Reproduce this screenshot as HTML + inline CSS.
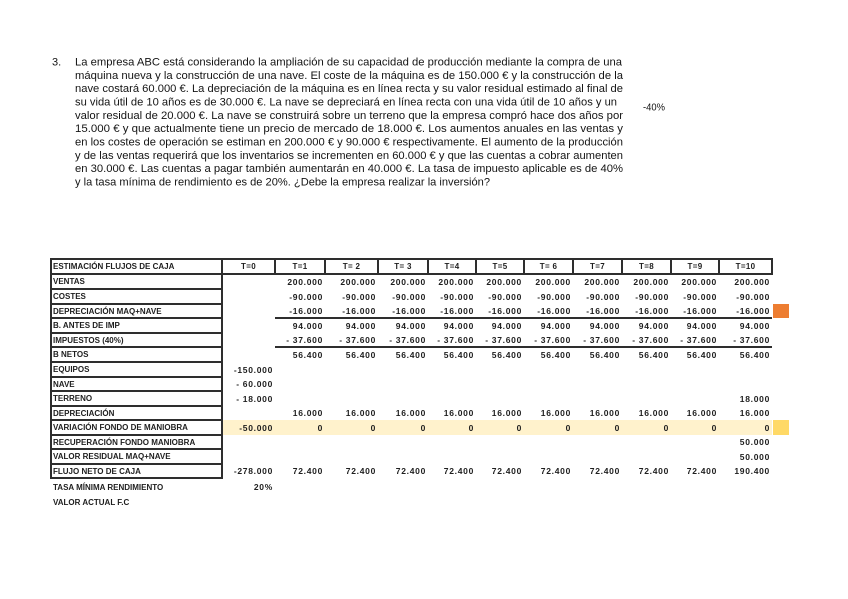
<!DOCTYPE html>
<html>
<head>
<meta charset="utf-8">
<style>
  html,body{margin:0;padding:0;background:#fff;}
  body{width:848px;height:599px;position:relative;overflow:hidden;font-family:"Liberation Sans",sans-serif;color:#1a1a1a;}
  .ln{position:absolute;background:#2e2e2e;}
  .row{position:absolute;left:0;width:848px;}
  .lab{position:absolute;left:53px;top:0;height:100%;display:flex;align-items:center;font-size:8px;font-weight:bold;white-space:nowrap;color:#1e1e1e;}
  .c{position:absolute;top:0;height:100%;display:flex;align-items:center;justify-content:flex-end;padding-right:2px;box-sizing:border-box;font-size:8.5px;font-weight:bold;letter-spacing:0.7px;white-space:nowrap;color:#1e1e1e;}
  .h{justify-content:center;padding-right:0;font-size:8px;letter-spacing:0.3px;}
  .c0{left:222px;width:53px}
  .c1{left:275px;width:50px}
  .c2{left:325px;width:53px}
  .c3{left:378px;width:50px}
  .c4{left:428px;width:48px}
  .c5{left:476px;width:48px}
  .c6{left:524px;width:49px}
  .c7{left:573px;width:49px}
  .c8{left:622px;width:49px}
  .c9{left:671px;width:48px}
  .c10{left:719px;width:53px}
</style>
</head>
<body>

<svg width="848" height="599" style="position:absolute;left:0;top:0" xmlns="http://www.w3.org/2000/svg">
  <g font-family="Liberation Sans, sans-serif" font-size="11" fill="#141414" style="white-space:pre">
    <text x="52" y="65.5">3.</text>
    <text x="75" y="65.5" textLength="547" lengthAdjust="spacingAndGlyphs">La empresa ABC está considerando la ampliación de su capacidad de producción mediante la compra de una</text>
    <text x="75" y="78.8" textLength="548" lengthAdjust="spacingAndGlyphs">máquina nueva y la construcción de una nave.  El coste de la máquina es de 150.000 € y la construcción de la</text>
    <text x="75" y="92.2" textLength="548" lengthAdjust="spacingAndGlyphs">nave costará 60.000 €.  La depreciación de la máquina es en línea recta y su valor residual estimado al final de</text>
    <text x="75" y="105.5" textLength="542" lengthAdjust="spacingAndGlyphs">su vida útil de 10 años es de 30.000 €.  La nave se depreciará en línea recta con una vida útil de 10 años y un</text>
    <text x="75" y="118.8" textLength="548" lengthAdjust="spacingAndGlyphs">valor residual de 20.000 €.   La nave se construirá sobre un terreno que la empresa compró hace dos años por</text>
    <text x="75" y="132.2" textLength="548" lengthAdjust="spacingAndGlyphs">15.000 € y que actualmente tiene un precio de mercado de 18.000 €.  Los aumentos anuales en las ventas y</text>
    <text x="75" y="145.5" textLength="548" lengthAdjust="spacingAndGlyphs">en los costes de operación se estiman en 200.000 € y 90.000 € respectivamente.  El aumento de la producción</text>
    <text x="75" y="158.8" textLength="548" lengthAdjust="spacingAndGlyphs">y de las ventas requerirá que los inventarios se incrementen en 60.000 € y que las cuentas a cobrar aumenten</text>
    <text x="75" y="172.2" textLength="548" lengthAdjust="spacingAndGlyphs">en 30.000 €.  Las cuentas a pagar también aumentarán en 40.000 €.   La tasa de impuesto aplicable es de 40%</text>
    <text x="75" y="185.5" textLength="415" lengthAdjust="spacingAndGlyphs">y la tasa mínima de rendimiento es de 20%. ¿Debe la empresa realizar la inversión?</text>
    <text x="643" y="110.5" font-size="10" textLength="22" lengthAdjust="spacingAndGlyphs">-40%</text>
  </g>
</svg>

<!-- fills -->
<div style="position:absolute;left:223px;top:420px;width:549px;height:15px;background:#FFF2CC"></div>
<div style="position:absolute;left:773px;top:420px;width:16px;height:15px;background:#FFD966"></div>
<div style="position:absolute;left:773px;top:304px;width:16px;height:14px;background:#ED7D31"></div>

<!-- horizontal lines -->
<div class="ln" style="left:51px;top:258px;width:722px;height:2px"></div>
<div class="ln" style="left:51px;top:273px;width:722px;height:2px"></div>
<div class="ln" style="left:51px;top:288px;width:172px;height:2px"></div>
<div class="ln" style="left:51px;top:303px;width:172px;height:2px"></div>
<div class="ln" style="left:51px;top:317px;width:172px;height:2px"></div>
<div class="ln" style="left:51px;top:332px;width:172px;height:2px"></div>
<div class="ln" style="left:51px;top:346px;width:172px;height:2px"></div>
<div class="ln" style="left:51px;top:361px;width:172px;height:2px"></div>
<div class="ln" style="left:51px;top:376px;width:172px;height:2px"></div>
<div class="ln" style="left:51px;top:390px;width:172px;height:2px"></div>
<div class="ln" style="left:51px;top:405px;width:172px;height:2px"></div>
<div class="ln" style="left:51px;top:419px;width:172px;height:2px"></div>
<div class="ln" style="left:51px;top:434px;width:172px;height:2px"></div>
<div class="ln" style="left:51px;top:448px;width:172px;height:2px"></div>
<div class="ln" style="left:51px;top:463px;width:172px;height:2px"></div>
<div class="ln" style="left:51px;top:477px;width:172px;height:2px"></div>
<div class="ln" style="left:275px;top:317px;width:497px;height:1.5px"></div>
<div class="ln" style="left:275px;top:346px;width:497px;height:1.5px"></div>

<!-- vertical lines -->
<div class="ln" style="left:50px;top:258px;width:2px;height:221px"></div>
<div class="ln" style="left:221px;top:258px;width:2px;height:221px"></div>
<div class="ln" style="left:274px;top:258px;width:2px;height:16px"></div>
<div class="ln" style="left:324px;top:258px;width:2px;height:16px"></div>
<div class="ln" style="left:377px;top:258px;width:2px;height:16px"></div>
<div class="ln" style="left:427px;top:258px;width:2px;height:16px"></div>
<div class="ln" style="left:475px;top:258px;width:2px;height:16px"></div>
<div class="ln" style="left:523px;top:258px;width:2px;height:16px"></div>
<div class="ln" style="left:572px;top:258px;width:2px;height:16px"></div>
<div class="ln" style="left:621px;top:258px;width:2px;height:16px"></div>
<div class="ln" style="left:670px;top:258px;width:2px;height:16px"></div>
<div class="ln" style="left:718px;top:258px;width:2px;height:16px"></div>
<div class="ln" style="left:771px;top:258px;width:2px;height:16px"></div>

<!-- header -->
<div class="row" style="top:259px;height:15px">
  <div class="lab">ESTIMACIÓN FLUJOS DE CAJA</div>
  <div class="c h c0">T=0</div><div class="c h c1">T=1</div><div class="c h c2">T= 2</div><div class="c h c3">T= 3</div><div class="c h c4">T=4</div><div class="c h c5">T=5</div><div class="c h c6">T= 6</div><div class="c h c7">T=7</div><div class="c h c8">T=8</div><div class="c h c9">T=9</div><div class="c h c10">T=10</div>
</div>

<div class="row" style="top:274px;height:15px">
  <div class="lab">VENTAS</div>
  <div class="c c1">200.000</div><div class="c c2">200.000</div><div class="c c3">200.000</div><div class="c c4">200.000</div><div class="c c5">200.000</div><div class="c c6">200.000</div><div class="c c7">200.000</div><div class="c c8">200.000</div><div class="c c9">200.000</div><div class="c c10">200.000</div>
</div>

<div class="row" style="top:289px;height:15px">
  <div class="lab">COSTES</div>
  <div class="c c1">-90.000</div><div class="c c2">-90.000</div><div class="c c3">-90.000</div><div class="c c4">-90.000</div><div class="c c5">-90.000</div><div class="c c6">-90.000</div><div class="c c7">-90.000</div><div class="c c8">-90.000</div><div class="c c9">-90.000</div><div class="c c10">-90.000</div>
</div>

<div class="row" style="top:304px;height:14px">
  <div class="lab">DEPRECIACIÓN MAQ+NAVE</div>
  <div class="c c1">-16.000</div><div class="c c2">-16.000</div><div class="c c3">-16.000</div><div class="c c4">-16.000</div><div class="c c5">-16.000</div><div class="c c6">-16.000</div><div class="c c7">-16.000</div><div class="c c8">-16.000</div><div class="c c9">-16.000</div><div class="c c10">-16.000</div>
</div>

<div class="row" style="top:318px;height:15px">
  <div class="lab">B. ANTES DE IMP</div>
  <div class="c c1">94.000</div><div class="c c2">94.000</div><div class="c c3">94.000</div><div class="c c4">94.000</div><div class="c c5">94.000</div><div class="c c6">94.000</div><div class="c c7">94.000</div><div class="c c8">94.000</div><div class="c c9">94.000</div><div class="c c10">94.000</div>
</div>

<div class="row" style="top:333px;height:14px">
  <div class="lab">IMPUESTOS (40%)</div>
  <div class="c c1">- 37.600</div><div class="c c2">- 37.600</div><div class="c c3">- 37.600</div><div class="c c4">- 37.600</div><div class="c c5">- 37.600</div><div class="c c6">- 37.600</div><div class="c c7">- 37.600</div><div class="c c8">- 37.600</div><div class="c c9">- 37.600</div><div class="c c10">- 37.600</div>
</div>

<div class="row" style="top:347px;height:15px">
  <div class="lab">B NETOS</div>
  <div class="c c1">56.400</div><div class="c c2">56.400</div><div class="c c3">56.400</div><div class="c c4">56.400</div><div class="c c5">56.400</div><div class="c c6">56.400</div><div class="c c7">56.400</div><div class="c c8">56.400</div><div class="c c9">56.400</div><div class="c c10">56.400</div>
</div>

<div class="row" style="top:362px;height:15px">
  <div class="lab">EQUIPOS</div>
  <div class="c c0">-150.000</div>
</div>

<div class="row" style="top:377px;height:14px">
  <div class="lab">NAVE</div>
  <div class="c c0">- 60.000</div>
</div>

<div class="row" style="top:391px;height:15px">
  <div class="lab">TERRENO</div>
  <div class="c c0">- 18.000</div><div class="c c10">18.000</div>
</div>

<div class="row" style="top:406px;height:14px">
  <div class="lab">DEPRECIACIÓN</div>
  <div class="c c1">16.000</div><div class="c c2">16.000</div><div class="c c3">16.000</div><div class="c c4">16.000</div><div class="c c5">16.000</div><div class="c c6">16.000</div><div class="c c7">16.000</div><div class="c c8">16.000</div><div class="c c9">16.000</div><div class="c c10">16.000</div>
</div>

<div class="row" style="top:420px;height:15px">
  <div class="lab">VARIACIÓN FONDO DE MANIOBRA</div>
  <div class="c c0">-50.000</div><div class="c c1">0</div><div class="c c2">0</div><div class="c c3">0</div><div class="c c4">0</div><div class="c c5">0</div><div class="c c6">0</div><div class="c c7">0</div><div class="c c8">0</div><div class="c c9">0</div><div class="c c10">0</div>
</div>

<div class="row" style="top:435px;height:14px">
  <div class="lab">RECUPERACIÓN FONDO MANIOBRA</div>
  <div class="c c10">50.000</div>
</div>

<div class="row" style="top:449px;height:15px">
  <div class="lab">VALOR RESIDUAL MAQ+NAVE</div>
  <div class="c c10">50.000</div>
</div>

<div class="row" style="top:464px;height:14px">
  <div class="lab">FLUJO NETO DE CAJA</div>
  <div class="c c0">-278.000</div><div class="c c1">72.400</div><div class="c c2">72.400</div><div class="c c3">72.400</div><div class="c c4">72.400</div><div class="c c5">72.400</div><div class="c c6">72.400</div><div class="c c7">72.400</div><div class="c c8">72.400</div><div class="c c9">72.400</div><div class="c c10">190.400</div>
</div>

<div class="row" style="top:480px;height:14px">
  <div class="lab">TASA MÍNIMA RENDIMIENTO</div>
  <div class="c c0">20%</div>
</div>

<div class="row" style="top:495px;height:14px">
  <div class="lab">VALOR ACTUAL F.C</div>
</div>

</body>
</html>
